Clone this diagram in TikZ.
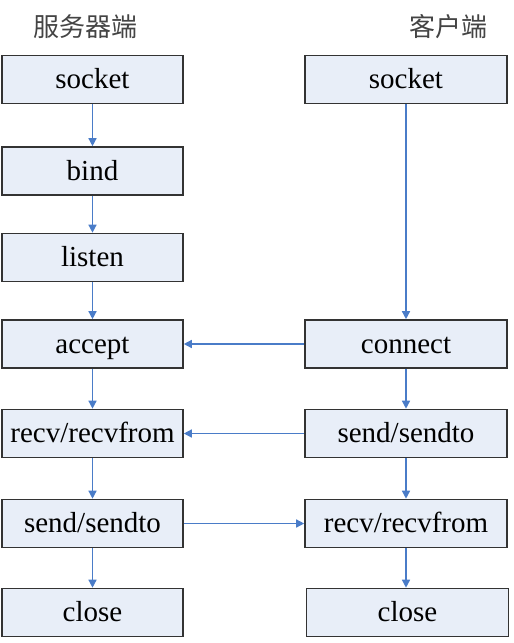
\documentclass[tikz,border=0pt]{standalone}
\usepackage{fontspec}
\setmainfont{Liberation Serif}
\newfontfamily\cjk{Noto Sans CJK SC}
\usetikzlibrary{arrows.meta}
\definecolor{boxfill}{HTML}{E8EEF8}
\definecolor{boxline}{HTML}{333333}
\definecolor{arrowblue}{HTML}{4A7CC8}
\definecolor{titlegray}{HTML}{444444}
\begin{document}
\begin{tikzpicture}[x=1pt,y=-1pt,
  lbox/.style={draw=boxline,line width=1.6pt,fill=boxfill,minimum width=181pt,minimum height=48pt,inner sep=0pt,text height=19pt,text depth=1pt,font=\fontsize{29}{32}\selectfont},
  rbox/.style={lbox,minimum width=202pt},
  flow/.style={draw=arrowblue,line width=1.4pt,-{Triangle[length=8pt,width=8pt]}},
  ttl/.style={text=titlegray,font=\cjk\fontsize{26}{30}\selectfont,inner sep=0pt}]
\useasboundingbox (0,0) rectangle (514,643);
\node[ttl] (t1) at (86,27) {服务器端};
\node[ttl] (t2) at (448,27) {客户端};
\node[lbox] (s1) at (92.5,79.5) {socket};
\node[lbox] (s2) at (92.5,171) {bind};
\node[lbox] (s3) at (92.5,257.5) {listen};
\node[lbox] (s4) at (92.5,344) {accept};
\node[lbox] (s5) at (92.5,433.5) {recv/recvfrom};
\node[lbox] (s6) at (92.5,523.5) {send/sendto};
\node[lbox] (s7) at (92.5,612.5) {close};
\node[rbox] (c1) at (406,79.5) {socket};
\node[rbox] (c2) at (406,344) {connect};
\node[rbox] (c3) at (406,433.5) {send/sendto};
\node[rbox] (c4) at (406,523.5) {recv/recvfrom};
\node[rbox] (c5) at (407.5,612.5) {close};
\draw[flow] (s1) -- (s2);
\draw[flow] (s2) -- (s3);
\draw[flow] (s3) -- (s4);
\draw[flow] (s4) -- (s5);
\draw[flow] (s5) -- (s6);
\draw[flow] (s6) -- (s7);
\draw[flow] (c1) -- (c2);
\draw[flow] (c2) -- (c3);
\draw[flow] (c3) -- (c4);
\draw[flow] (c4.south -| c1) -- (c5.north -| c1);
\draw[flow] (c2) -- (s4);
\draw[flow] (c3) -- (s5);
\draw[flow] (s6) -- (c4);
\end{tikzpicture}
\end{document}
